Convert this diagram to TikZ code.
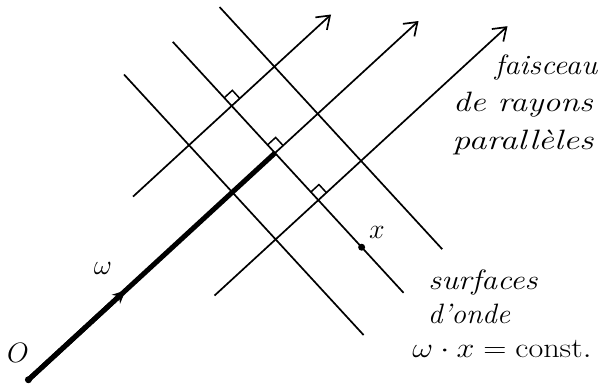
\RequirePackage{fix-cm}
\documentclass[tikz,border=0pt]{standalone}
\usepackage{graphicx}
\usetikzlibrary{arrows.meta}
\begin{document}
\begin{tikzpicture}[x=1pt,y=1pt,
  ray/.style={line width=1.7pt, -{Straight Barb[length=12pt,width=17pt,line width=1.7pt]}},
  wave/.style={line width=1.7pt},
  thickray/.style={line width=5pt},
  lbl/.style={font=\fontsize{28}{30}\selectfont\itshape, inner sep=0pt},
  rmark/.style={line width=1.5pt},
  dotpt/.style={circle, fill, inner sep=0pt, minimum size=7pt}]
\useasboundingbox (0,0) rectangle (615,389);
\begin{scope}[shift={(275,236)}, rotate=42.6]
  % rays
  \coordinate (r1s) at (-134,64);  \coordinate (r1e) at (135,64);
  \coordinate (O)   at (-335,0);   \coordinate (C) at (0,0);
  \coordinate (M)   at (-203,0);   \coordinate (r2e) at (195,0);
  \coordinate (r3s) at (-141,-64); \coordinate (r3e) at (257,-64);
  % wave surfaces
  \coordinate (w1s) at (-58,160);  \coordinate (w1e) at (-58,-194);
  \coordinate (w2s) at (0,151);    \coordinate (w2e) at (0,-190);
  \coordinate (w3s) at (58,145);   \coordinate (w3e) at (58,-184);
  \coordinate (X)   at (0,-128);
  % right-angle marks
  \coordinate (k1) at (0,64);  \coordinate (k2) at (0,0);  \coordinate (k3) at (0,-64);
  \foreach \k in {k1,k2,k3}
    \draw[rmark] (\k) ++(11,0) -- ++(0,11) -- ++(-11,0);
\end{scope}
\draw[ray] (r1s) -- (r1e);
\draw[ray] (C) -- (r2e);
\draw[ray] (r3s) -- (r3e);
\draw[wave] (w1s) -- (w1e);
\draw[wave] (w2s) -- (w2e);
\draw[wave] (w3s) -- (w3e);
\draw[thickray] (O) -- (C);
\draw[thickray, -{Stealth[length=13pt,width=12pt]}] (O) -- (M);
\node[dotpt] (Odot) at (O) {};
\node[dotpt] (Xdot) at (X) {};
\node[lbl] (Olbl) at (18,36) {$O$};
\node[lbl] (wlbl) at (103,121) {$\omega$};
\node[lbl] (xlbl) at (377,157) {$x$};
\node[lbl] (t1) at (546,321) {\scalebox{1.1}[1]{faisceau}};
\node[lbl] (t2) at (523,284) {\scalebox{1.22}[1]{de rayons}};
\node[lbl] (t3) at (523,247) {\scalebox{1.28}[1]{parallèles}};
\node[lbl] (s1) at (483,107) {\scalebox{1.15}[1]{surfaces}};
\node[lbl] (s2) at (469,75) {\scalebox{1.05}[1]{d'onde}};
\node[lbl] (s3) at (502,40) {\scalebox{1.15}[1]{$\omega\cdot x=\mathrm{const.}$}};
\end{tikzpicture}
\end{document}
